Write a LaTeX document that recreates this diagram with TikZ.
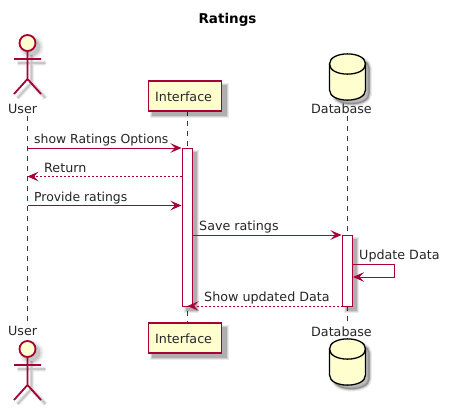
\documentclass[tikz,border=0pt]{standalone}
\usepackage{fontspec}
\setmainfont{DejaVu Sans}
\usetikzlibrary{arrows.meta}
\definecolor{umlred}{HTML}{A80036}
\definecolor{umlfill}{HTML}{FEFECE}
\tikzset{
  x=1pt,y=-1pt,
  txt/.style={font=\fontsize{12.7}{15}\selectfont,inner sep=0pt,anchor=base west,text=black!85},
  titletxt/.style={font=\fontsize{13.5}{16}\selectfont\bfseries,inner sep=0pt,anchor=base,text=black},
  partbox/.style={draw=umlred,line width=1.3pt,fill=umlfill,minimum width=73pt,minimum height=30pt,inner sep=0pt},
  lifeline/.style={draw=umlred,line width=1pt,dash pattern=on 5pt off 5pt},
  actbox/.style={draw=umlred,line width=1pt,fill=white,minimum width=10pt,inner sep=0pt},
  msg/.style={draw=umlred,line width=.9pt,-{Stealth[length=11pt,width=9.5pt,inset=4.5pt,fill=umlred]}},
  reply/.style={msg,dash pattern=on 2pt off 2pt},
  stick/.style={draw=umlred,line width=1.8pt},
}
\newcommand{\actorfig}[2]{%
  \foreach \w/\o in {5/.06,3/.08,1.6/.10}{
    \draw[black,opacity=\o,line width=\w pt] (#1+4,#2+12) -- (#1+4,#2+40) (#1-10,#2+20) -- (#1+18,#2+20)
      (#1-10,#2+55) -- (#1+4,#2+40) -- (#1+18,#2+55);
    \fill[black,opacity=\o] (#1+4,#2+4) circle[radius=7.2+\w];
  }
  \draw[stick,fill=umlfill] (#1,#2) circle[radius=8];
  \draw[stick] (#1,#2+8) -- (#1,#2+36) (#1-13.5,#2+16) -- (#1+13.5,#2+16)
    (#1-13.5,#2+51) -- (#1,#2+36) -- (#1+13.5,#2+51);
}
\newcommand{\cylpath}[2]{
  (#1-18,#2+10) .. controls (#1-18,#2-3.5) and (#1+18,#2-3.5) .. (#1+18,#2+10)
  -- (#1+18,#2+36) .. controls (#1+18,#2+49.5) and (#1-18,#2+49.5) .. (#1-18,#2+36) -- cycle
}
\newcommand{\dbfig}[2]{%
  \foreach \w/\o in {5/.06,3.2/.09,1.6/.13}{
    \draw[black,opacity=\o,line width=\w pt,fill=black,fill opacity=\o] \cylpath{#1+4}{#2+4};
  }
  \draw[black,line width=1.3pt,fill=umlfill] \cylpath{#1}{#2};
  \draw[black,line width=1.3pt] (#1-18,#2+10) .. controls (#1-18,#2+23.5) and (#1+18,#2+23.5) .. (#1+18,#2+10);
}
\newcommand{\softbox}[4]{%
  \foreach \g/\o in {2.5/.08,1.5/.11,.5/.16}{
    \fill[black,opacity=\o] (#1+4-\g,#2+4-\g) rectangle (#3+4+\g,#4+4+\g);
  }
}
\begin{document}
\begin{tikzpicture}
\useasboundingbox (0,0) rectangle (452,410);
\fill[white] (0,0) rectangle (452,410);

\node[titletxt] (title) at (227.5,23) {Ratings};

% lifeline ends
\coordinate (uT) at (27.5,116);
\coordinate (uB) at (27.5,321);
\coordinate (iT) at (187.5,111);
\coordinate (iB) at (187.5,323);
\coordinate (dT) at (347.5,116);
\coordinate (dB) at (347.5,321);
\draw[lifeline] (uT) -- (uB);
\draw[lifeline] (iT) -- (iB);
\draw[lifeline] (dT) -- (dB);

% participants, top
\actorfig{27.5}{43}
\node[txt] (userTop) at (8,113) {User};
\softbox{148.5}{81}{222}{111}
\node[partbox] (ifaceTop) at (185.25,96) {};
\node[txt] (ifaceTopT) at (155,101) {Interface};
\dbfig{347.5}{54}
\node[txt] (dbTop) at (311,113) {Database};

% participants, bottom
\node[txt] (userBot) at (8,335) {User};
\actorfig{27.5}{349}
\softbox{148.5}{323}{222}{353}
\node[partbox] (ifaceBot) at (185.25,338) {};
\node[txt] (ifaceBotT) at (155,343) {Interface};
\node[txt] (dbBot) at (311,336) {Database};
\dbfig{347.5}{339}

% activations
\softbox{182.5}{148}{192.5}{306}
\node[actbox,minimum height=158pt] (actI) at (187.5,227) {};
\softbox{342.5}{235}{352.5}{306}
\node[actbox,minimum height=71pt] (actD) at (347.5,270.5) {};

% message ends
\coordinate (a1) at (27.5,148);  \coordinate (b1) at (181.5,148);
\coordinate (a2) at (182,176.5); \coordinate (b2) at (27.5,176.5);
\coordinate (a3) at (27.5,205.5);\coordinate (b3) at (181.5,205.5);
\coordinate (a4) at (192.5,235); \coordinate (b4) at (341.5,235);
\coordinate (a5) at (352.5,264); \coordinate (c5) at (394.5,264);
\coordinate (d5) at (394.5,277); \coordinate (b5) at (353,277);
\coordinate (a6) at (342.5,306); \coordinate (b6) at (187.5,306);

\draw[msg] (a1) -- (b1);
\draw[reply] (a2) -- (b2);
\draw[msg] (a3) -- (b3);
\draw[msg] (a4) -- (b4);
\draw[msg] (a5) -- (c5) -- (d5) -- (b5);
\draw[reply] (a6) -- (b6);

% labels
\node[txt,font=\fontsize{12.4}{15}\selectfont] (l1) at (34,143) {show Ratings Options};
\node[txt] (l2) at (44,172) {Return};
\node[txt,font=\fontsize{12.4}{15}\selectfont] (l3) at (34,201) {Provide ratings};
\node[txt] (l4) at (199,230) {Save ratings};
\node[txt] (l5) at (359,259) {Update Data};
\node[txt] (l6) at (204,301) {Show updated Data};
\end{tikzpicture}
\end{document}
